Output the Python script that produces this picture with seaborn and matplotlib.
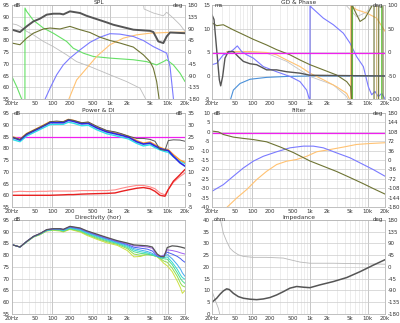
import matplotlib
matplotlib.use("Agg")
import matplotlib.pyplot as plt
import seaborn as sns

sns.set_theme(style="white")
plt.rcParams['font.family'] = ['DejaVu Sans']
plt.rcParams['axes.unicode_minus'] = False

# ---- x axis ----
x_ticks = [20, 50, 100, 200, 500, 1000, 2000, 5000, 10000, 20000]
x_labels = ['20Hz', '50', '100', '200', '500', '1k', '2k', '5k', '10k', '20k']

# ---- SPL ----
spl_sum_f = [20, 27.5, 35.9, 46.9, 61.2, 80, 104, 136, 155, 202, 302, 394, 588, 876, 1143, 1492, 1948, 2542,
             3790, 4944, 5650, 6896, 8427, 9620, 11000, 20000]
spl_sum = [84.5, 83.5, 85.9, 88.0, 89.2, 90.9, 91.3, 91.3, 91.0, 92.3, 91.6, 90.4, 89.0, 87.6, 86.6, 85.9, 85.2,
           84.5, 84.2, 84.0, 83.5, 79.5, 78.8, 81.6, 83.3, 83.0]
spl_woof_f = [20, 27.5, 35.9, 46.9, 70, 91.3, 136, 202, 302, 450, 671, 1000, 1492, 2542, 3790, 4944, 5650, 6455, 7400]
spl_woof = [78.8, 78.1, 80.9, 83.0, 84.8, 85.2, 84.8, 85.9, 84.5, 83.3, 81.3, 79.9, 78.8, 77.1, 73.8, 70.9, 68.1,
            62.4, 52.0]
spl_gray_f = [20, 24.1, 27.5, 35.9, 46.9, 70, 104, 177, 264, 450, 1000, 1948, 3318, 4600]
spl_gray = [87.0, 86.6, 85.9, 83.8, 82.3, 79.5, 77.3, 73.8, 70.9, 68.8, 65.3, 62.4, 59.6, 53.0]
spl_gray2_f = [3790, 3900, 5650, 8427, 9620, 12570, 16400, 20000]
spl_gray2 = [96.0, 93.3, 91.6, 90.4, 91.9, 89.4, 86.6, 83.8]
spl_green_f = [20, 24.1, 29.4, 33.5, 33.6, 35.9, 46.9, 70, 104, 177, 231, 345, 514, 1000, 2542, 4330, 6455, 8427,
               9620, 12570, 16400, 20000]
spl_green = [64.5, 60.3, 55.0, 52.0, 93.7, 92.3, 88.5, 85.2, 83.0, 79.5, 76.6, 74.5, 73.1, 72.4, 71.7, 70.9, 69.5,
             70.9, 71.7, 69.5, 66.0, 62.4]
spl_tw_f = [72, 91.3, 119, 155, 202, 302, 450, 671, 1000, 1492, 2542, 3790, 5650, 8427, 9620, 11000, 13000]
spl_tw = [54.0, 59.6, 65.3, 69.5, 72.4, 75.9, 79.1, 81.3, 82.8, 82.6, 81.6, 79.9, 77.3, 75.2, 74.5, 68.8, 52.0]
spl_or_f = [180, 264, 394, 588, 1000, 1705, 2904, 4944, 9620, 20000]
spl_or = [53.0, 63.1, 68.1, 73.1, 78.1, 80.9, 82.3, 83.0, 83.3, 83.5]

# ---- GD & Phase ----
gd_sum_f = [20, 21.7, 24.1, 26.8, 28.3, 30.6, 33.6, 38.4, 46.9, 57.2, 70, 91.3, 119, 177, 264, 394, 671, 1000, 20000]
gd_sum = [12.9, 11.9, 5.5, -0.9, -2.2, -0.2, 3.7, 5.1, 5.1, 4.0, 3.0, 2.5, 2.3, 1.2, 1.2, 0.8, 0.5, 0.05, -0.1]
gd_olive_f = [20, 24.1, 31.4, 46.9, 70, 104, 177, 264, 450, 671, 1000, 1705, 2904, 4330, 5078, 5284]
gd_olive = [11.2, 10.6, 10.8, 9.7, 8.7, 7.7, 6.5, 5.5, 4.4, 3.3, 2.3, 1.2, 0.1, -1.3, -2.4, -5.5]
ph_olive_f = [5290, 5300, 5650, 7376, 9002, 11750, 12600, 12900, 12910, 15500, 15600, 18400, 18500]
ph_olive = [-5.5, 15.5, 14.4, 11.5, 12.2, 14.7, 15.5, 15.5, -5.5, -5.5, 15.5, 15.5, -5.5]
ph_green_f = [5460, 5470, 17500, 17510]
ph_green = [-5.5, 15.5, 15.5, -5.5]
ph_tan_f = [14360, 14370]
ph_tan = [15.5, -5.5]
gd_or_f = [35.9, 46.9, 91.3, 177, 264, 394, 671, 1000, 1705, 2904, 4330, 5078, 5090, 5284, 6455, 9620, 14360, 20000]
gd_or = [5.1, 5.1, 5.1, 4.9, 4.4, 3.3, 1.9, 0.5, -0.9, -2.4, -3.8, -5.5, 15.5, 14.7, 14.0, 13.3, 12.2, 9.4]
gd_gray_f = [35.9, 91.3, 177, 394, 1000, 2542, 4330, 4700]
gd_gray = [5.0, 4.9, 4.75, 3.0, -0.2, -2.0, -4.5, -5.5]
ph_gray_f = [3790, 4330, 6455, 9620, 12570]
ph_gray = [15.5, 14.8, 12.5, 13.5, 15.5]
gd_blue_f = [20, 24.1, 31.4, 38.4, 46.9, 55, 65.4, 80, 104, 155, 264, 450, 671, 876, 1000, 1001, 1040, 1705, 2542,
             3790, 4944, 6455, 8427, 10280, 11750, 13420, 15330, 17510, 20000]
gd_blue = [2.3, 2.6, 4.4, 4.75, 5.5, 6.3, 5.1, 4.4, 3.7, 1.9, 0.8, -0.2, -1.3, -3.1, -5.5, 15.5, 14.6, 12.2, 10.8,
           9.0, 6.9, 4.0, 1.9, -2.4, -4.1, -3.4, -4.5, -3.8, -5.0]
gd_steel_f = [41, 46.9, 61.2, 91.3, 177, 394, 1000, 20000]
gd_steel = [-5.5, -3.1, -1.7, -0.8, -0.4, -0.2, -0.1, -0.1]
gd_ref = [4.8, 4.8]

# ---- Power & DI ----
pw_f = [20, 27.5, 35.9, 46.9, 61.2, 80, 91.3, 119, 155, 190, 231, 323, 421, 588, 876, 1222, 1595, 2082, 2904,
        3790, 4944, 6036, 7376, 9002, 10280, 12570, 16400, 20000]
pw_axis = [84.7, 83.8, 86.2, 87.6, 89.0, 90.4, 91.3, 91.6, 91.3, 92.3, 91.9, 90.9, 91.2, 89.4, 87.6, 87.0, 86.2,
           85.2, 84.2, 84.2, 83.8, 83.0, 79.5, 79.2, 83.3, 83.6, 83.5, 83.0]
pw_lw = [84.7, 83.5, 85.9, 87.3, 88.7, 90.2, 90.9, 90.9, 90.9, 91.9, 91.5, 90.4, 90.6, 88.7, 87.0, 86.2, 85.5,
         84.8, 82.8, 81.8, 82.2, 81.0, 79.9, 79.3, 79.0, 76.6, 73.8, 72.4]
pw_er = [85.0, 83.9, 86.3, 87.7, 89.1, 90.6, 91.3, 91.3, 91.3, 92.3, 91.9, 90.8, 91.0, 89.1, 87.4, 86.6, 85.9,
         85.2, 83.3, 82.2, 82.7, 81.5, 80.4, 79.6, 79.4, 77.3, 75.0, 74.0]
pw_sp = [83.8, 82.8, 85.2, 86.6, 88.0, 89.4, 90.1, 90.2, 90.2, 91.1, 90.7, 89.6, 89.8, 87.9, 86.2, 85.4, 84.7,
         84.0, 82.1, 81.0, 81.5, 80.3, 79.3, 78.6, 78.3, 76.4, 74.5, 73.5]
pw_di = [60.0, 60.0, 60.0, 60.0, 60.0, 60.0, 60.0, 60.1, 60.2, 60.3, 60.3, 60.5, 60.6, 60.7, 60.8, 61.0, 61.7,
         62.3, 63.0, 63.3, 62.8, 61.7, 60.0, 59.6, 62.5, 66.0, 68.8, 71.0]
pw_di2 = [61.4, 61.7, 61.6, 61.6, 61.7, 61.7, 61.8, 61.8, 61.8, 61.8, 61.8, 62.0, 62.0, 62.0, 62.0, 62.3, 63.0,
          63.6, 64.2, 64.2, 63.6, 62.8, 61.0, 60.2, 62.5, 65.5, 68.0, 69.5]
pw_ref = [84.8, 84.8]

# ---- Filter ----
flt_lp_f = [20, 25.8, 31.4, 46.9, 70, 104, 177, 302, 514, 1000, 1705, 2904, 4944, 8427, 12570, 20000]
flt_lp = [0.4, 0.0, -1.4, -2.8, -3.5, -4.1, -5.3, -8.0, -11.0, -15.5, -18.3, -21.1, -24.3, -27.6, -30.2, -33.1]
flt_bp_f = [20, 31.4, 46.9, 70, 104, 155, 264, 450, 767, 1143, 1705, 2904, 4944, 8427, 12570, 20000]
flt_bp = [-31.6, -28.1, -23.6, -19.2, -15.6, -13.0, -10.6, -8.5, -7.6, -7.6, -8.5, -11.2, -13.8, -17.4, -20.1, -23.6]
flt_hp_f = [34, 53.6, 80, 119, 177, 264, 394, 588, 876, 1306, 2225, 3790, 6455, 11000, 20000]
flt_hp = [-41.0, -35.2, -30.7, -25.4, -21.0, -17.4, -15.6, -14.7, -13.0, -10.6, -9.4, -8.1, -6.7, -6.2, -5.8]
flt_ref = [-0.5, -0.5]

# ---- Directivity (hor) ----
dir_f = [20, 27.5, 36, 47, 61, 80, 104, 136, 155, 202, 302, 394, 588, 876, 1340, 2000, 2600, 3400, 4440, 5420,
         6600, 7550, 8630, 9860, 12000, 14700, 16800, 18000, 20000]
dir_0 = [84.5, 83.5, 85.9, 88.0, 89.2, 90.9, 91.3, 91.3, 91.0, 92.3, 91.6, 90.4, 89.0, 87.6,
         86.2, 85.2, 84.4, 84.2, 84.0, 83.5, 80.5, 79.5, 79.3, 83.3, 84.0, 83.8, 83.5, 83.3, 83.0]
dir_1 = [84.5, 83.5, 85.9, 88.0, 89.2, 90.9, 91.3, 91.3, 91.0, 92.2, 91.5, 90.3, 88.8, 87.4,
         86.0, 85.0, 84.0, 83.8, 83.5, 83.0, 80.0, 79.5, 80.0, 82.3, 82.0, 81.5, 81.0, 80.8, 80.5]
dir_2 = [84.5, 83.5, 85.9, 88.0, 89.2, 90.8, 91.2, 91.2, 90.9, 92.0, 91.3, 90.1, 88.6, 87.2,
         85.8, 84.6, 83.4, 83.0, 82.6, 81.8, 79.8, 79.4, 80.0, 81.3, 80.5, 79.5, 78.5, 77.8, 77.0]
dir_3 = [84.5, 83.5, 85.8, 87.9, 89.1, 90.7, 91.1, 91.0, 90.7, 91.8, 91.0, 89.8, 88.3, 86.9,
         85.5, 84.2, 82.8, 82.2, 81.6, 80.8, 79.6, 79.2, 79.5, 80.3, 78.5, 76.0, 74.0, 72.5, 71.0]
dir_4 = [84.5, 83.5, 85.8, 87.9, 89.0, 90.6, 91.0, 90.9, 90.5, 91.6, 90.8, 89.5, 88.0, 86.6,
         85.2, 83.8, 82.2, 81.5, 81.0, 80.3, 79.5, 79.0, 79.0, 79.3, 77.0, 74.0, 71.5, 70.5, 69.8]
dir_5 = [84.5, 83.5, 85.7, 87.8, 88.9, 90.5, 90.9, 90.7, 90.3, 91.4, 90.5, 89.2, 87.6, 86.2,
         85.0, 83.3, 81.5, 80.8, 80.5, 80.0, 79.5, 78.8, 78.5, 78.3, 76.0, 72.5, 70.0, 69.0, 68.0]
dir_6 = [84.5, 83.5, 85.7, 87.8, 88.8, 90.4, 90.8, 90.5, 90.1, 91.2, 90.2, 88.9, 87.2, 85.8,
         84.6, 82.8, 80.5, 80.0, 80.2, 80.0, 79.4, 78.5, 77.5, 77.0, 74.5, 71.0, 68.0, 67.0, 66.5]
dir_7 = [84.5, 83.5, 85.6, 87.7, 88.7, 90.3, 90.6, 90.3, 89.9, 91.0, 89.9, 88.5, 86.8, 85.3,
         84.2, 82.0, 79.3, 79.5, 80.5, 80.2, 79.3, 78.0, 76.5, 75.5, 73.0, 69.0, 66.0, 63.8, 65.0]

# ---- Impedance ----
imp_f = [20, 24.1, 27.5, 31.4, 35.9, 40, 46.9, 57.2, 70, 91.3, 119, 155, 202, 264, 345, 450, 588, 767, 1000, 1492,
         2542, 4330, 7376, 12570, 20000]
imp_ohm = [5.0, 6.7, 8.4, 9.8, 10.7, 10.4, 8.8, 7.4, 6.7, 6.3, 6.1, 6.4, 7.0, 8.1, 9.5, 11.0, 11.7, 11.4, 11.2,
           12.4, 13.8, 15.5, 18.0, 20.8, 23.1]
imp_ph1_f = [20, 22.6, 25.8, 27.5]
imp_ph1 = [9.8, 6.0, 2.4, -0.5]
imp_ph2_f = [27.8, 31.4, 35.9, 41, 46.9, 57.2, 70, 104, 177, 345, 450, 671, 1000, 2542, 20000]
imp_ph2 = [40.5, 34.4, 30.9, 28.0, 26.6, 25.2, 24.5, 24.1, 24.1, 23.8, 23.1, 22.1, 21.6, 21.6, 21.2]

MAGENTA = '#f020f0'


def line(ax, f, v, c, lw=0.6, z=2):
    sns.lineplot(x=f, y=v, ax=ax, color=c, linewidth=lw, estimator=None, sort=False, legend=False, zorder=z)


def setup(ax, ylim, yticks, title, lunit, rlim=None, rticks=None, runit=None):
    ax.set_xscale('log')
    ax.set_xlim(20, 20000)
    ax.set_ylim(*ylim)
    ax.set_yticks(yticks)
    ax.set_xticks(x_ticks)
    ax.set_xticklabels(x_labels)
    ax.set_xlabel('')
    ax.set_ylabel('')
    ax.tick_params(which='both', length=0, labelsize=4, pad=1.5, colors='#333333')
    ax.grid(True, which='both', axis='x', color='#e0e0e0', lw=0.4)
    ax.grid(True, which='major', axis='y', color='#cccccc', lw=0.5)
    for d in (100, 1000, 10000):
        ax.axvline(d, color='#9c9c9c', lw=0.6, zorder=0.5)
    for s in ax.spines.values():
        s.set_color('#b5b5b5')
        s.set_linewidth(0.6)
    ax.text(0.5, 1.0, title, transform=ax.transAxes, ha='center', va='bottom', fontsize=4.2, color='#333333')
    ax.text(0.012, 1.0, lunit, transform=ax.transAxes, ha='left', va='center', fontsize=4, color='#333333')
    if rlim is not None:
        tw = ax.twinx()
        tw.set_ylim(*rlim)
        tw.set_yticks(rticks)
        tw.grid(False)
        tw.tick_params(length=0, labelsize=4, pad=2, colors='#333333')
        for s in tw.spines.values():
            s.set_visible(False)
    if runit:
        ax.text(0.988, 1.0, runit, transform=ax.transAxes, ha='right', va='center', fontsize=4, color='#333333')


fig = plt.figure(figsize=(4, 3.23), dpi=100)
W, H = 0.4325, 0.291
ax1 = fig.add_axes([0.03, 0.6935, W, H])
ax2 = fig.add_axes([0.53, 0.6935, W, H])
ax3 = fig.add_axes([0.03, 0.359, W, H])
ax4 = fig.add_axes([0.53, 0.359, W, H])
ax5 = fig.add_axes([0.03, 0.0279, W, H])
ax6 = fig.add_axes([0.53, 0.0279, W, H])

# SPL
line(ax1, spl_gray_f, spl_gray, '#bdbdbd')
line(ax1, spl_gray2_f, spl_gray2, '#bdbdbd')
line(ax1, spl_green_f, spl_green, '#66e066', 0.8)
line(ax1, spl_or_f, spl_or, '#ffc272', 0.8)
line(ax1, spl_tw_f, spl_tw, '#7a7aff', 0.8)
line(ax1, spl_woof_f, spl_woof, '#6e7434', 0.8)
line(ax1, spl_sum_f, spl_sum, '#555555', 1.4)
setup(ax1, (55, 95), range(55, 96, 5), 'SPL', 'dB', (-180, 180), range(-180, 181, 45), 'deg')

# GD & Phase
line(ax2, gd_steel_f, gd_steel, '#4a90d9', 0.8)
line(ax2, gd_gray_f, gd_gray, '#c4c4c4')
line(ax2, ph_gray_f, ph_gray, '#c4c4c4')
line(ax2, gd_or_f, gd_or, '#ffc272', 0.8)
line(ax2, [20, 20000], gd_ref, MAGENTA, 0.9, 2.5)
line(ax2, gd_blue_f, gd_blue, '#7a7aff', 0.8)
line(ax2, ph_tan_f, ph_tan, '#c8b070', 0.8)
line(ax2, ph_green_f, ph_green, '#66cc44', 0.8)
line(ax2, gd_olive_f, gd_olive, '#6e7434', 0.8)
line(ax2, ph_olive_f, ph_olive, '#6e7434', 0.8)
line(ax2, gd_sum_f, gd_sum, '#555555', 1.0)
setup(ax2, (-5, 15), range(-5, 16, 5), 'GD & Phase', 'ms', (-100, 100), range(-100, 101, 50), 'deg')

# Power & DI
line(ax3, [20, 20000], pw_ref, MAGENTA, 0.9)
line(ax3, pw_f, pw_di2, '#ff8a8a', 0.8)
line(ax3, pw_f, pw_di, '#e82020', 1.0)
line(ax3, pw_f, pw_sp, '#2ee0e8', 1.0)
line(ax3, pw_f, pw_er, '#ff9a2a', 1.0)
line(ax3, pw_f, pw_lw, '#2a2ae0', 1.2)
line(ax3, pw_f, pw_axis, '#555555', 0.7)
setup(ax3, (55, 95), range(55, 96, 5), 'Power & DI', 'dB', (-5, 35), range(-5, 36, 5), 'dB')

# Filter
line(ax4, [20, 20000], flt_ref, MAGENTA, 0.9)
line(ax4, flt_hp_f, flt_hp, '#ffc272', 0.8)
line(ax4, flt_bp_f, flt_bp, '#7a7aff', 0.8)
line(ax4, flt_lp_f, flt_lp, '#6e7434', 0.8)
setup(ax4, (-40, 10), range(-40, 11, 5), 'Filter', 'dB', (-180, 180), range(-180, 181, 36), 'deg')

# Directivity
dir_colors = ['#cce040', '#90dc50', '#50dc90', '#35d8d0', '#45a8f0', '#4a5cf0', '#a060f0']
for vals, c in zip([dir_7, dir_6, dir_5, dir_4, dir_3, dir_2, dir_1], dir_colors):
    line(ax5, dir_f, vals, c, 0.7)
line(ax5, dir_f, dir_0, '#555555', 0.9)
setup(ax5, (55, 95), range(55, 96, 5), 'Directivity (hor)', 'dB')

# Impedance
line(ax6, imp_ph1_f, imp_ph1, '#b8b8b8')
line(ax6, imp_ph2_f, imp_ph2, '#b8b8b8')
line(ax6, imp_f, imp_ohm, '#555555', 1.1)
setup(ax6, (0, 40), range(0, 41, 5), 'Impedance', 'ohm', (-180, 180), range(-180, 181, 45), 'deg')

fig.savefig('out.png', dpi=100)
